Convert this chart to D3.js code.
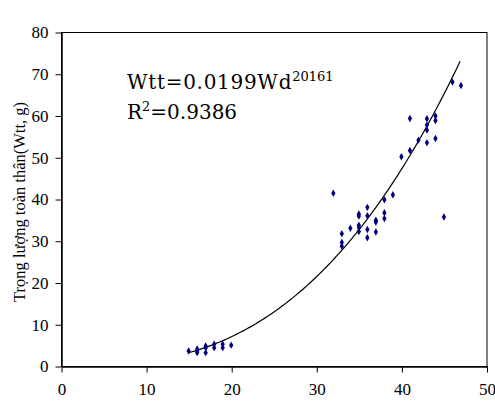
<!DOCTYPE html>
<html>
<head>
<meta charset="utf-8">
<script src="https://cdn.jsdelivr.net/npm/d3@7"></script>
<style>
  body { margin: 0; background: #fff; }
</style>
</head>
<body>
<div id="chart"></div>
<script>
// Wd (x) and Wtt (y)
var wd = [15, 16, 16, 16, 17, 17, 17, 18, 18, 19, 19, 20,
  32, 33, 33, 33, 34, 35, 35, 35, 35, 35, 36, 36, 36, 36, 37, 37, 37,
  38, 38, 38, 39, 40, 41, 41, 42, 43, 43, 43, 43, 44, 44, 44, 45, 46, 47];
var wtt = [3.6, 4.1, 3.6, 3.2, 4.8, 4.4, 3.2, 5.2, 4.4, 5.2, 4.4, 5.0,
  41.4, 31.7, 29.6, 28.7, 33.0, 36.4, 35.9, 33.7, 33.2, 32.2, 38.0, 36.0, 32.7, 30.7, 34.9, 34.5, 32.1,
  39.8, 36.7, 35.3, 41.0, 50.1, 51.6, 59.3, 54.1, 53.5, 56.5, 57.7, 59.2, 54.5, 58.8, 59.9, 35.7, 68.0, 67.2];

var xTicks = [0, 10, 20, 30, 40, 50];
var yTicks = [0, 10, 20, 30, 40, 50, 60, 70, 80];

// power trend line as drawn: Wtt = a * Wd^b, from Wd 14.9 to 46.9
var trendA = 0.00183, trendB = 2.753;
var trendRange = [14.9, 46.9];

var yTitle = "Trọng lượng toàn thân(Wtt, g)";

var width = 495, height = 406;
var margin = {top: 32, right: 8, bottom: 40, left: 61};
var serif = "'Liberation Serif', 'Times New Roman', serif";

var svg = d3.select("#chart").append("svg")
    .attr("width", width)
    .attr("height", height);

var x = d3.scaleLinear().domain([0, 50]).range([margin.left, width - margin.right - 0.5]);
var y = d3.scaleLinear().domain([0, 80]).range([height - margin.bottom, margin.top]);

// frame (top and right)
svg.append("rect")
    .attr("x", x(0) + 0.5)
    .attr("y", y(80) + 0.5)
    .attr("width", x(50) - x(0))
    .attr("height", y(0) - y(80))
    .attr("fill", "none")
    .attr("stroke", "#000")
    .attr("stroke-width", 1);

// x axis
var xAxis = svg.append("g")
    .attr("transform", "translate(0.5," + (y(0) + 0.5) + ")")
    .call(d3.axisBottom(x).tickValues(xTicks).tickSize(6).tickSizeOuter(0).tickPadding(10));
xAxis.select(".domain").attr("stroke", "#000").attr("stroke-width", 1.5);
xAxis.selectAll("text").style("font-size", "17px").style("font-family", serif).attr("fill", "#000");

// y axis
var yAxis = svg.append("g")
    .attr("transform", "translate(" + (x(0) + 0.5) + ",0.5)")
    .call(d3.axisLeft(y).tickValues(yTicks).tickSize(6).tickSizeOuter(0).tickPadding(7));
yAxis.select(".domain").attr("stroke", "#000").attr("stroke-width", 1.5);
yAxis.selectAll("text").style("font-size", "17px").style("font-family", serif).attr("fill", "#000");

// y axis title
svg.append("text")
    .attr("transform", "translate(25," + ((y(0) + y(80)) / 2 + 3) + ") rotate(-90)")
    .attr("text-anchor", "middle")
    .style("font-size", "16.5px")
    .style("font-family", serif)
    .text(yTitle);

// trend line
var line = d3.line()
    .x(function(d) { return x(d); })
    .y(function(d) { return y(trendA * Math.pow(d, trendB)); });

var steps = d3.range(trendRange[0], trendRange[1], 0.25).concat([trendRange[1]]);
svg.append("path")
    .datum(steps)
    .attr("d", line)
    .attr("fill", "none")
    .attr("stroke", "#000")
    .attr("stroke-width", 1.2);

// points
var pts = wd.map(function(v, i) { return {x: v, y: wtt[i]}; });
svg.append("g").selectAll("path")
    .data(pts)
    .enter().append("path")
    .attr("d", d3.symbol(d3.symbolDiamond, 16))
    .attr("transform", function(d) { return "translate(" + x(d.x) + "," + y(d.y) + ")"; })
    .attr("fill", "#000080");

// equation
var eqFont = "'DejaVu Serif', serif";
var t1 = svg.append("text").attr("x", 127).attr("y", 89)
    .style("font-family", eqFont).style("font-size", "20px").style("letter-spacing", "0.7px");
t1.append("tspan").text("Wtt=0.0199Wd");
t1.append("tspan").attr("dy", -8).style("font-size", "13px").style("letter-spacing", "0px").text("20161");
var t2 = svg.append("text").attr("x", 127).attr("y", 119)
    .style("font-family", eqFont).style("font-size", "20px");
t2.append("tspan").text("R");
t2.append("tspan").attr("dy", -8).style("font-size", "13px").text("2");
t2.append("tspan").attr("dy", 8).text("=0.9386");
</script>
</body>
</html>
